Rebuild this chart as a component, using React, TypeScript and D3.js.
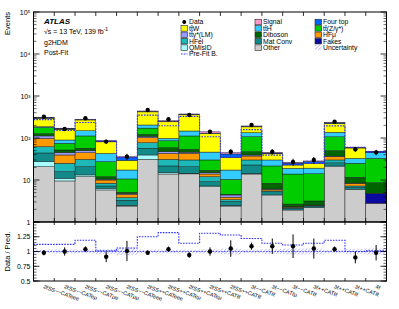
import * as d3 from "d3";

// bins
const categories = [
  "2ℓSS−−CATeee", "2ℓSS−−CATeμ", "2ℓSS−−CATμe", "2ℓSS−−CATμμ", "2ℓSS−−CATeee",
  "2ℓSS++CATeee", "2ℓSS++CATeμ", "2ℓSS++CATeμ", "2ℓSS++CATℓℓ", "2ℓSS++CATℓℓ",
  "3ℓ−−CATℓℓ", "3ℓ−−CATℓμ", "3ℓ−−CATℓℓ", "3ℓ++CATℓℓ", "3ℓ++CATℓℓ", "3ℓ++CATℓℓ", "4ℓ",
];

// post-fit stack components (events per bin)
const other = [20.7, 9.5, 12, 5.8, 2.4, 31, 13.9, 14, 6.9, 2.4, 13.9, 4.4, 1.93, 2.2, 20.7, 6, 2.8];
const fakes = [0, 0, 0, 0, 0, 0, 0, 0, 0, 0, 0, 0, 0, 0, 0, 0, 2.0];
const qmisid = [6.6, 1.5, 1.2, 0.5, 0.1, 8.4, 1.0, 0.4, 0.3, 0.1, 0.3, 0, 0, 0, 0.9, 0, 0];
const matconv = [16.7, 4.8, 7.5, 0.9, 0.8, 17.6, 6.7, 6.3, 1.9, 0.6, 8.6, 0.9, 0.2, 0.2, 4, 0.7, 0];
const hfel = [18, 9.2, 10.3, 1.2, 0.5, 20, 9.4, 9.3, 2.9, 0.3, 7.2, 0.2, 0.1, 0.05, 4.4, 0.5, 0];
const hfmu = [36, 14.4, 13.7, 1.6, 0.75, 25, 12, 13, 1.9, 0.5, 7.2, 0.5, 0.05, 0.05, 5.9, 1.15, 0];
const ttgamma = [14, 5.4, 5, 0.5, 0.2, 8, 4.2, 3, 1, 0.5, 2.2, 0.1, 0.03, 0.03, 1, 0.1, 0];
const diboson = [14, 7, 7.3, 1.5, 0.35, 12, 11.6, 7.8, 2.1, 0.16, 7.8, 2.25, 0.36, 0.64, 12.9, 3.15, 3.8];
const ttz = [52, 23, 55, 15.3, 5.5, 50, 27.2, 58, 13, 5.8, 60, 13.25, 11.2, 10.9, 57, 13.4, 24.2];
const tth = [8, 14.8, 37, 15.7, 6.7, 32, 12, 35, 16.2, 6.9, 27, 8.4, 5.1, 5.1, 30, 7.8, 11.9];
const ttw = [110, 72, 120, 38, 12, 215, 145, 210, 82, 17.4, 50, 12, 3.8, 6, 85, 25, 0.5];
const fourtop = [6, 4, 6, 3, 5.5, 12, 5, 10, 2, 7, 6, 1.7, 2.5, 2.5, 6, 1.5, 1.5];
const signal = [4, 4, 4, 2, 1, 8, 10, 6, 10, 3, 3, 1, 0.5, 0.7, 3, 0.7, 0.5];

const data = [320, 164, 295, 82, 36, 464, 279, 353, 141, 47, 204, 47, 27, 30, 244, 54, 45.5];

// lower panel
const ratio = [0.98, 1.0, 1.04, 0.91, 1.01, 0.98, 1.04, 0.94, 1.0, 1.05, 1.09, 1.09, 1.09, 1.05, 1.04, 0.9, 0.98];
const ratioErr = [0.045, 0.07, 0.045, 0.09, 0.17, 0.035, 0.045, 0.045, 0.07, 0.14, 0.06, 0.13, 0.2, 0.17, 0.045, 0.1, 0.13];
const prefitRatio = [1.12, 1.12, 1.19, 1.01, 1.06, 1.25, 1.32, 1.14, 1.31, 1.28, 1.22, 1.14, 1.11, 1.14, 1.19, 1.0, 1.01];
const uncRel = [0.03, 0.035, 0.03, 0.04, 0.06, 0.03, 0.03, 0.03, 0.035, 0.05, 0.03, 0.04, 0.05, 0.05, 0.03, 0.04, 0.05];

const yTickLabels = ["1", "10", "10²", "10³", "10⁴", "10⁵"];
const ratioTicks = [0.5, 0.75, 1, 1.25];

// bottom -> top
const series = [
  { key: "other", label: "Other", color: "#cccccc", values: other },
  { key: "fakes", label: "Fakes", color: "#0a0aa0", values: fakes },
  { key: "qmisid", label: "QMisID", color: "#a8ffff", values: qmisid },
  { key: "matconv", label: "Mat Conv", color: "#128a8a", values: matconv },
  { key: "hfel", label: "HFel", color: "#1db8b8", values: hfel },
  { key: "hfmu", label: "HFμ", color: "#ff9900", values: hfmu },
  { key: "ttgamma", label: "tt̄γ*(LM)", color: "#9999ff", values: ttgamma },
  { key: "diboson", label: "Diboson", color: "#006400", values: diboson },
  { key: "ttz", label: "tt̄(Z/γ*)", color: "#00cc00", values: ttz },
  { key: "tth", label: "tt̄H", color: "#33ccff", values: tth },
  { key: "ttw", label: "tt̄W", color: "#ffff00", values: ttw },
  { key: "fourtop", label: "Four top", color: "#0066ff", values: fourtop },
  { key: "signal", label: "Signal", color: "#ff99cc", values: signal },
];

const col = (k: string) => series.find((s) => s.key === k)!;

const legendCols = [
  ["data", "ttw", "ttgamma", "hfel", "qmisid", "prefit"],
  ["signal", "tth", "diboson", "matconv", "other"],
  ["fourtop", "ttz", "hfmu", "fakes", "unc"],
];

const FONT = "Liberation Sans, Arial, Helvetica, sans-serif";
const BLUE = "#3030ff";

export default function App() {
  const width = 399;
  const height = 309;
  const xL = 33.5, xR = 386.5;
  const yTop = 12, yMid = 222, yBot = 281;
  const n = categories.length;

  const x = d3.scaleLinear().domain([0, n]).range([xL, xR]);
  const y = d3.scaleLog().domain([1, 1e5]).range([yMid, yTop]);
  const yr = d3.scaleLinear().domain([0.5, 1.5]).range([yBot, yMid]);

  const rows = categories.map((_, i) => {
    const r: Record<string, number> = {};
    series.forEach((s) => (r[s.key] = s.values[i]));
    return r;
  });
  const stacked = d3.stack<Record<string, number>>().keys(series.map((s) => s.key))(rows);
  const totals = rows.map((_, i) => stacked[stacked.length - 1][i][1]);
  const prefit = totals.map((t, i) => t / prefitRatio[i]);

  const bins = d3.range(n);
  const edges = d3.range(n + 1);

  const stepPath = (vals: number[], ys: (v: number) => number) => {
    let p = "";
    vals.forEach((v, i) => {
      p += `${i === 0 ? "M" : "L"}${x(i)},${ys(v)}L${x(i + 1)},${ys(v)}`;
    });
    return p;
  };

  const majors = d3.range(0, 6).map((e) => Math.pow(10, e));
  const minors: number[] = [];
  for (let e = 0; e < 5; e++) for (let k = 2; k < 10; k++) minors.push(k * Math.pow(10, e));
  const rMinors = d3.range(0.5, 1.5001, 0.05);
  const rMajors = [0.5, 0.75, 1, 1.25, 1.5];

  const legendRow = (k: string, cx: number, cy: number) => {
    const bw = 6.5, bh = 5.5;
    const tx = cx + bw + 1.5;
    if (k === "data") {
      return (
        <g key={k}>
          <circle cx={cx + bw / 2} cy={cy} r={2} fill="#000" />
          <text x={tx} y={cy + 2.4} fontSize={6.8}>Data</text>
        </g>
      );
    }
    if (k === "prefit") {
      return (
        <g key={k}>
          <line x1={cx} x2={cx + bw} y1={cy} y2={cy} stroke={BLUE} strokeWidth={1.1} strokeDasharray="1.6,1.2" />
          <text x={tx} y={cy + 2.4} fontSize={6.8}>Pre-Fit B.</text>
        </g>
      );
    }
    if (k === "unc") {
      return (
        <g key={k}>
          <rect x={cx} y={cy - bh / 2} width={bw} height={bh} fill="url(#hatch)" />
          <text x={tx} y={cy + 2.4} fontSize={6.8}>Uncertainty</text>
        </g>
      );
    }
    const s = col(k);
    return (
      <g key={k}>
        <rect x={cx} y={cy - bh / 2} width={bw} height={bh} fill={s.color} stroke="#222" strokeWidth={0.6} />
        <text x={tx} y={cy + 2.4} fontSize={6.8}>{s.label}</text>
      </g>
    );
  };

  const legendX = [181, 255, 315];

  return (
    <svg width={width} height={height} style={{ position: "absolute", left: 0, top: 0, background: "#fff" }}
      fontFamily={FONT}>
      <defs>
        <pattern id="hatch" patternUnits="userSpaceOnUse" width={2.6} height={2.6} patternTransform="rotate(45)">
          <line x1={0} y1={0} x2={0} y2={2.6} stroke="#5050ff" strokeWidth={0.7} />
        </pattern>
        <clipPath id="mainClip"><rect x={xL} y={yTop} width={xR - xL} height={yMid - yTop} /></clipPath>
        <clipPath id="ratioClip"><rect x={xL} y={yMid} width={xR - xL} height={yBot - yMid} /></clipPath>
      </defs>

      {/* stacked histogram */}
      <g clipPath="url(#mainClip)">
        {stacked.map((layer, li) =>
          layer.map((d, i) => {
            const lo = Math.max(d[0], 1);
            const hi = d[1];
            if (hi <= lo) return null;
            return (
              <rect key={`${li}-${i}`} x={x(i)} width={x(i + 1) - x(i)} y={y(hi)} height={y(lo) - y(hi)}
                fill={series[li].color} stroke="#1a1a1a" strokeWidth={0.45} />
            );
          })
        )}
        {/* post-fit uncertainty */}
        {bins.map((i) => (
          <rect key={`u${i}`} x={x(i)} width={x(i + 1) - x(i)} y={y(totals[i] * (1 + uncRel[i]))}
            height={y(totals[i] * (1 - uncRel[i])) - y(totals[i] * (1 + uncRel[i]))} fill="url(#hatch)" />
        ))}
        {/* pre-fit */}
        <path d={stepPath(prefit, y)} fill="none" stroke={BLUE} strokeWidth={1.1} strokeDasharray="1.6,1.2" />
        {/* data */}
        {bins.map((i) => {
          const cx = (x(i) + x(i + 1)) / 2;
          const e = Math.sqrt(data[i]);
          return (
            <g key={`d${i}`}>
              <line x1={cx} x2={cx} y1={y(data[i] + e)} y2={y(Math.max(data[i] - e, 1))} stroke="#000" strokeWidth={1} />
              <circle cx={cx} cy={y(data[i])} r={2.2} fill="#000" />
            </g>
          );
        })}
      </g>

      {/* ratio panel */}
      <g clipPath="url(#ratioClip)">
        {bins.map((i) => (
          <rect key={`ru${i}`} x={x(i)} width={x(i + 1) - x(i)} y={yr(1 + uncRel[i])}
            height={yr(1 - uncRel[i]) - yr(1 + uncRel[i])} fill="url(#hatch)" />
        ))}
        <line x1={xL} x2={xR} y1={yr(1)} y2={yr(1)} stroke={BLUE} strokeWidth={0.8} strokeDasharray="1.6,1.2" />
        <path d={stepPath(prefitRatio, yr)} fill="none" stroke={BLUE} strokeWidth={1.1} strokeDasharray="1.6,1.2" />
        {bins.map((i) => {
          const cx = (x(i) + x(i + 1)) / 2;
          return (
            <g key={`r${i}`}>
              <line x1={cx} x2={cx} y1={yr(ratio[i] + ratioErr[i])} y2={yr(ratio[i] - ratioErr[i])} stroke="#000" strokeWidth={1} />
              <circle cx={cx} cy={yr(ratio[i])} r={2.2} fill="#000" />
            </g>
          );
        })}
      </g>

      {/* frames */}
      <rect x={xL} y={yTop} width={xR - xL} height={yMid - yTop} fill="none" stroke="#000" strokeWidth={1} />
      <rect x={xL} y={yMid} width={xR - xL} height={yBot - yMid} fill="none" stroke="#000" strokeWidth={1} />

      {/* x ticks at bin edges */}
      {edges.map((e) => (
        <g key={`xt${e}`} stroke="#000" strokeWidth={0.8}>
          <line x1={x(e)} x2={x(e)} y1={yTop} y2={yTop + 4} />
          <line x1={x(e)} x2={x(e)} y1={yMid} y2={yMid - 4} />
          <line x1={x(e)} x2={x(e)} y1={yMid} y2={yMid + 3} />
          <line x1={x(e)} x2={x(e)} y1={yBot} y2={yBot - 3} />
        </g>
      ))}

      {/* main y ticks */}
      {majors.map((v) => (
        <g key={`ym${v}`} stroke="#000" strokeWidth={0.8}>
          <line x1={xL} x2={xL + 6} y1={y(v)} y2={y(v)} />
          <line x1={xR} x2={xR - 6} y1={y(v)} y2={y(v)} />
        </g>
      ))}
      {minors.map((v) => (
        <g key={`yn${v}`} stroke="#000" strokeWidth={0.6}>
          <line x1={xL} x2={xL + 3} y1={y(v)} y2={y(v)} />
          <line x1={xR} x2={xR - 3} y1={y(v)} y2={y(v)} />
        </g>
      ))}
      {majors.map((v, i) => (
        <text key={`yl${v}`} x={xL - 3} y={y(v) + 2.5} fontSize={7} textAnchor="end">{yTickLabels[i]}</text>
      ))}

      {/* ratio y ticks */}
      {rMajors.map((v) => (
        <g key={`rm${v}`} stroke="#000" strokeWidth={0.8}>
          <line x1={xL} x2={xL + 6} y1={yr(v)} y2={yr(v)} />
          <line x1={xR} x2={xR - 6} y1={yr(v)} y2={yr(v)} />
        </g>
      ))}
      {rMinors.map((v) => (
        <g key={`rn${v}`} stroke="#000" strokeWidth={0.6}>
          <line x1={xL} x2={xL + 3} y1={yr(v)} y2={yr(v)} />
          <line x1={xR} x2={xR - 3} y1={yr(v)} y2={yr(v)} />
        </g>
      ))}
      {ratioTicks.map((v) => (
        <text key={`rl${v}`} x={xL - 3} y={yr(v) + 2.5} fontSize={7} textAnchor="end">{String(v)}</text>
      ))}

      {/* x labels */}
      {bins.map((i) => {
        const cx = (x(i) + x(i + 1)) / 2;
        return (
          <text key={`xl${i}`} transform={`translate(${cx - 1},${yBot + 7}) rotate(20)`} fontSize={5.5}
            textAnchor="start">{categories[i]}</text>
        );
      })}

      {/* axis titles */}
      <text transform={`translate(10,${yTop}) rotate(-90)`} fontSize={7.5} textAnchor="end">Events</text>
      <text transform={`translate(10,${yr(1)}) rotate(-90)`} fontSize={7.5} textAnchor="middle">Data / Pred.</text>

      {/* labels */}
      <text x={44} y={24} fontSize={8} fontWeight="bold" fontStyle="italic">ATLAS</text>
      <text x={44} y={34} fontSize={7}>√s = 13 TeV, 139 fb<tspan dy={-3} fontSize={5}>-1</tspan></text>
      <text x={44} y={44.5} fontSize={7}>g2HDM</text>
      <text x={44} y={55} fontSize={7}>Post-Fit</text>

      {/* legend */}
      {legendCols.map((c, ci) => c.map((k, ri) => legendRow(k, legendX[ci], 22 + ri * 6.4)))}
    </svg>
  );
}
